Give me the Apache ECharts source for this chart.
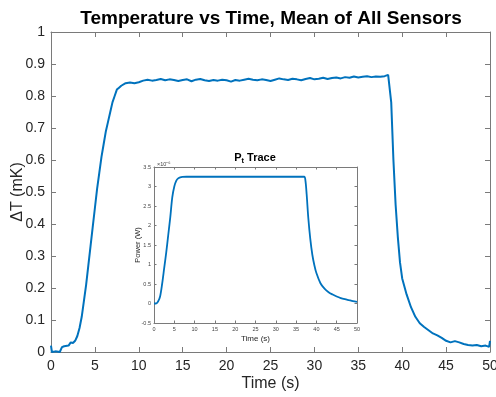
<!DOCTYPE html>
<html><head><meta charset="utf-8">
<script src="https://cdn.jsdelivr.net/npm/echarts@6/dist/echarts.min.js"></script>
<style>html,body{margin:0;padding:0;background:#fff}#c{width:496px;height:397px}</style>
</head><body><div id="c"></div>
<script>
// Main chart: mean temperature rise of all sensors (mK) vs time (s)
var mainTime = [0,0.1,0.5,1.0,1.25,1.5,2.0,2.25,2.5,2.75,3.0,3.25,3.5,3.75,4.0,4.25,4.5,4.75,5.0,5.25,5.5,5.75,6.0,6.25,6.5,6.75,7.0,7.25,7.5,7.75,8.0,8.5,9.0,9.5,10.0,10.5,
  11.0,11.5,12.0,12.5,13.0,13.5,14.0,14.5,15.0,15.5,16.0,16.5,17.0,17.5,18.0,18.5,19.0,19.5,20.0,20.5,21.0,21.5,22.0,22.5,23.0,23.5,24.0,24.5,25.0,25.5,26.0,26.5,27.0,27.5,28.0,28.5,29.0,29.5,30.0,30.5,31.0,31.5,32.0,32.5,33.0,33.5,34.0,34.5,35.0,35.5,36.0,36.5,37.0,37.5,38.0,38.4,
  38.6,38.75,39.0,39.25,39.5,39.75,40.0,40.5,41.0,41.5,42.0,42.5,43.0,43.5,44.0,44.5,45.0,45.5,46.0,46.5,47.0,47.5,48.0,48.5,49.0,49.5,49.9,50.0];
var mainDeltaT = [0.02,0.0,0.002,0.0,0.015,0.018,0.02,0.03,0.028,0.035,0.05,0.075,0.11,0.16,0.21,0.27,0.33,0.39,0.45,0.51,0.56,0.61,0.65,0.69,0.72,0.75,0.78,0.80,0.82,0.826,0.832,0.84,0.842,0.84,0.843,0.848,
  0.851,0.848,0.850,0.853,0.849,0.852,0.850,0.847,0.850,0.852,0.846,0.851,0.853,0.849,0.847,0.850,0.848,0.851,0.849,0.845,0.850,0.848,0.851,0.854,0.851,0.849,0.852,0.850,0.847,0.851,0.855,0.852,0.850,0.854,0.852,0.849,0.853,0.856,0.852,0.854,0.857,0.853,0.856,0.858,0.855,0.859,0.857,0.861,0.858,0.860,0.862,0.859,0.861,0.860,0.862,0.866,
  0.86,0.78,0.60,0.46,0.36,0.28,0.23,0.18,0.14,0.11,0.09,0.078,0.068,0.058,0.052,0.044,0.035,0.03,0.034,0.03,0.025,0.022,0.02,0.022,0.018,0.02,0.016,0.035];

// Inset: P_t trace, power in units of 1e-6 W
var insetTime = [0,0.5,1.0,1.5,2.0,2.5,3.0,3.5,4.0,4.5,5.0,5.5,6.0,7.0,8.0,10,15,20,25,30,35,37.0,37.3,37.6,38.0,38.5,39.0,39.5,40.0,41.0,42.0,43.0,44.0,45.0,46.0,47.0,48.0,49.0,50.0];
var insetPowerMicroW = [0,0.0,0.05,0.18,0.5,0.9,1.3,1.75,2.2,2.72,3.0,3.15,3.21,3.245,3.25,3.25,3.25,3.25,3.25,3.25,3.25,3.25,3.15,2.8,2.2,1.65,1.25,0.98,0.78,0.52,0.38,0.29,0.23,0.18,0.14,0.11,0.085,0.06,0.04];

var chart = echarts.init(document.getElementById('c'), null, {renderer:'canvas'});
function pairs(xs, ys){ return xs.map(function(x,i){return [x, ys[i]];}); }
var axisCol = '#7a7a7a', txtCol = '#262626', font = 'Liberation Sans, Arial, sans-serif';
function ax(extra){
  var base = {type:'value', nameMoveOverlap:false, axisLine:{show:true,onZero:false,lineStyle:{color:axisCol,width:1}}, axisTick:{show:true,inside:true,length:5,lineStyle:{color:axisCol}},
    splitLine:{show:false}, axisLabel:{color:txtCol,fontFamily:font}};
  for (var k in extra) base[k] = extra[k];
  return base;
}
var smallTick = {show:true,inside:true,length:2.5,lineStyle:{color:axisCol}};
chart.setOption({
  backgroundColor:'#fff',
  animation:false,
  title:[
    {text:'Temperature vs Time, Mean of All Sensors', left:266, top:4, textAlign:'center',
     textStyle:{fontSize:19,fontWeight:'bold',color:'#000',fontFamily:font}},
    {text:'{a|P}{b|t}{a| Trace}', left:250, top:145, textAlign:'center',
     textStyle:{rich:{a:{fontSize:11,fontWeight:'bold',color:'#000',fontFamily:font},
                      b:{fontSize:7.5,fontWeight:'bold',color:'#000',fontFamily:font,padding:[7,0,0,0]}}}}
  ],
  grid:[
    {left:51,right:6,top:32,bottom:45,outerBoundsMode:'none',containLabel:false},
    {left:154,width:203,top:167,height:156,show:true,backgroundColor:'#fff',borderWidth:0,outerBoundsMode:'none',containLabel:false}
  ],
  xAxis:[
    ax({gridIndex:0,min:0,max:50,interval:5,axisLabel:{fontSize:14,color:txtCol,fontFamily:font,margin:7},
        name:'Time (s)',nameLocation:'middle',nameGap:24,nameTextStyle:{fontSize:16,color:txtCol,fontFamily:font}}),
    ax({gridIndex:0,min:0,max:50,interval:5,position:'top',axisLabel:{show:false}}),
    ax({gridIndex:1,min:0,max:50,interval:5,axisTick:smallTick,
        axisLabel:{fontSize:5.5,color:'#444',fontFamily:font,margin:3},
        name:'Time (s)',nameLocation:'middle',nameGap:12,nameTextStyle:{fontSize:8,color:txtCol,fontFamily:font}}),
    ax({gridIndex:1,min:0,max:50,interval:5,position:'top',axisTick:smallTick,axisLabel:{show:false}})
  ],
  yAxis:[
    ax({gridIndex:0,min:0,max:1,interval:0.1,axisLabel:{fontSize:14,color:txtCol,fontFamily:font,margin:6},
        name:'ΔT (mK)',nameLocation:'middle',nameGap:25,nameRotate:90,nameTextStyle:{fontSize:16,color:txtCol,fontFamily:font}}),
    ax({gridIndex:0,min:0,max:1,interval:0.1,position:'right',axisLabel:{show:false}}),
    ax({gridIndex:1,min:-0.5,max:3.5,interval:0.5,axisTick:smallTick,
        axisLabel:{fontSize:5.5,color:'#444',fontFamily:font,margin:3},
        name:'Power (W)',nameLocation:'middle',nameGap:12,nameRotate:90,nameTextStyle:{fontSize:7.5,color:txtCol,fontFamily:font}}),
    ax({gridIndex:1,min:-0.5,max:3.5,interval:0.5,position:'right',axisTick:smallTick,axisLabel:{show:false}})
  ],
  graphic:[
    {type:'text',left:157,top:161,style:{text:'×10⁻⁶',fontSize:5.5,fill:'#444',fontFamily:font}}
  ],
  series:[
    {type:'line',xAxisIndex:0,yAxisIndex:0,data:pairs(mainTime,mainDeltaT),showSymbol:false,lineStyle:{color:'#0072BD',width:2},itemStyle:{color:'#0072BD'}},
    {type:'line',xAxisIndex:2,yAxisIndex:2,data:pairs(insetTime,insetPowerMicroW),smooth:0.3,showSymbol:false,lineStyle:{color:'#0072BD',width:1.8},itemStyle:{color:'#0072BD'}}
  ]
});
</script></body></html>
